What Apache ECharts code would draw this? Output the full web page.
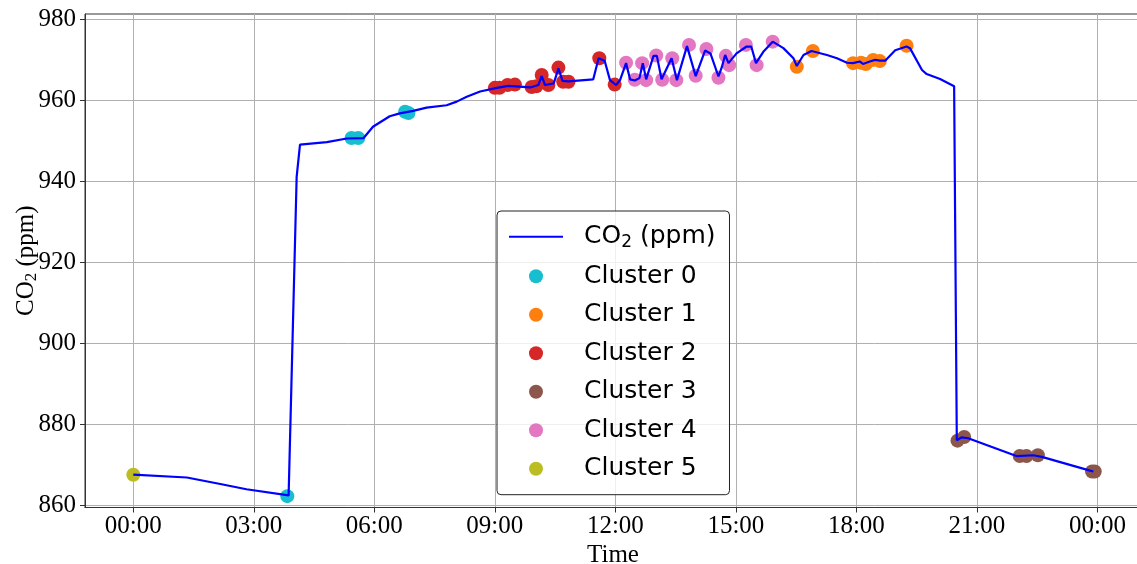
<!DOCTYPE html>
<html>
<head>
<meta charset="utf-8">
<script src="https://cdn.jsdelivr.net/npm/echarts@6/dist/echarts.min.js"></script>
<style>
  html, body { margin: 0; padding: 0; background: #fff; }
  #chart { width: 1137px; height: 564px; }
</style>
</head>
<body>
<div id="chart"></div>
<script>
// CO2 trace
const lineTimes = ['00:00', '01:20', '02:10', '02:49', '03:52', '04:04', '04:09', '04:49', '05:19', '05:44',
  '05:58', '06:23', '06:38', '06:58', '07:18', '07:48', '08:03', '08:18', '08:38', '09:03',
  '09:20', '09:53', '10:05', '10:10', '10:15', '10:28', '10:35', '10:41', '10:50', '11:27',
  '11:35', '11:44', '11:52', '12:01', '12:07', '12:16', '12:22', '12:29', '12:36', '12:41',
  '12:46', '12:57', '13:02', '13:09', '13:24', '13:32', '13:47', '14:00', '14:14', '14:22',
  '14:34', '14:39', '14:44', '14:49', '15:01', '15:16', '15:23', '15:30', '15:41', '15:55',
  '16:11', '16:26', '16:31', '16:41', '16:53', '17:16', '17:31', '17:46', '17:55', '18:05',
  '18:10', '18:20', '18:28', '18:35', '18:43', '18:58', '19:15', '19:20', '19:38', '19:45',
  '20:05', '20:26', '20:30', '20:37', '20:47', '21:59', '22:24', '22:37', '23:49', '23:54']
const lineValues = [867.5, 866.8, 865.2, 863.9, 862.4, 941.0, 949.0, 949.6, 950.5, 950.6,
  953.4, 956.0, 956.7, 957.3, 958.1, 958.7, 959.6, 960.8, 962.1, 963.0,
  963.5, 963.1, 963.7, 965.9, 963.7, 964.1, 967.8, 964.7, 964.6, 965.1,
  970.3, 969.7, 964.9, 963.7, 964.9, 969.1, 965.1, 964.8, 965.4, 969.1,
  965.1, 970.9, 970.9, 965.1, 970.3, 964.9, 973.3, 965.9, 972.2, 971.5,
  965.8, 968.1, 971.1, 969.1, 971.5, 973.2, 973.2, 969.1, 971.9, 974.4,
  972.8, 970.3, 968.4, 971.1, 972.1, 971.1, 970.3, 969.2, 969.1, 969.5,
  968.9, 969.5, 969.9, 969.7, 969.7, 972.3, 973.2, 972.8, 967.4, 966.4,
  965.2, 963.4, 876.0, 876.7, 876.5, 872.1, 872.3, 871.9, 868.5, 868.3]

// cluster points [time, ppm]
const cluster0 = [['03:50', 862.2], ['05:26', 950.6], ['05:36', 950.6], ['06:46', 957.1], ['06:51', 956.8]]
const cluster1 = [['16:31', 968.2], ['16:55', 972.1], ['17:55', 969.1], ['18:07', 969.2], ['18:14', 968.9],
  ['18:25', 969.9], ['18:35', 969.6], ['19:15', 973.4]]
const cluster2 = [['09:00', 963.0], ['09:07', 963.0], ['09:19', 963.7], ['09:30', 963.8], ['09:55', 963.2],
  ['10:02', 963.4], ['10:10', 966.2], ['10:20', 963.7], ['10:35', 968.0], ['10:42', 964.5],
  ['10:50', 964.5], ['11:36', 970.3], ['11:59', 963.8]]
const cluster3 = [['20:31', 875.9], ['20:41', 876.8], ['22:04', 872.1], ['22:14', 872.1], ['22:31', 872.3],
  ['23:52', 868.3], ['23:56', 868.3]]
const cluster4 = [['12:16', 969.2], ['12:29', 965.0], ['12:40', 969.1], ['12:46', 964.9], ['13:01', 971.0],
  ['13:10', 965.0], ['13:25', 970.3], ['13:31', 964.9], ['13:50', 973.6], ['14:00', 966.0],
  ['14:16', 972.6], ['14:34', 965.5], ['14:45', 970.9], ['14:50', 968.6], ['15:15', 973.6],
  ['15:31', 968.6], ['15:55', 974.4]]
const cluster5 = [['00:00', 867.5]]

const clusterNames = ['Cluster 0', 'Cluster 1', 'Cluster 2', 'Cluster 3', 'Cluster 4', 'Cluster 5']
const clusterColors = ['#17becf', '#ff7f0e', '#d62728', '#8c564b', '#e377c2', '#bcbd22']
const clusters = [cluster0, cluster1, cluster2, cluster3, cluster4, cluster5]

const xTicks = [0, 3, 6, 9, 12, 15, 18, 21, 24]
const yTicks = [860, 880, 900, 920, 940, 960, 980]

function toHours (t) {
  const p = t.split(':')
  return +p[0] + (+p[1]) / 60
}
function fmtHour (v) {
  const h = Math.round(v) % 24
  return (h < 10 ? '0' : '') + h + ':00'
}

const chart = echarts.init(document.getElementById('chart'))

const series = [{
  name: 'CO2',
  type: 'line',
  symbol: 'none',
  z: 5,
  color: '#0000ff',
  lineStyle: { color: '#0000ff', width: 2.2 },
  data: lineTimes.map((t, i) => [toHours(t), lineValues[i]])
}]
clusters.forEach((pts, i) => {
  series.push({
    name: clusterNames[i],
    type: 'scatter',
    symbol: 'circle',
    symbolSize: 14,
    z: 3,
    color: clusterColors[i],
    itemStyle: { color: clusterColors[i], opacity: 1 },
    data: pts.map(p => [toHours(p[0]), p[1]])
  })
})

const serif = '"Liberation Serif", "Times New Roman", serif'

chart.setOption({
  animation: false,
  backgroundColor: '#fff',
  grid: {
    left: 85,
    right: -4,
    top: 14,
    bottom: 56.5,
    outerBoundsMode: 'none',
    containLabel: false,
    show: true,
    borderColor: '#333',
    borderWidth: 1
  },
  legend: {
    orient: 'vertical',
    left: 497,
    top: 211,
    padding: [11.7, 14, 13, 11],
    itemWidth: 54,
    itemHeight: 14,
    itemGap: 12.5,
    backgroundColor: 'rgba(255,255,255,0.8)',
    borderColor: '#222',
    borderWidth: 1,
    borderRadius: 4,
    data: [{ name: 'CO2', itemStyle: { opacity: 0 } }].concat(clusterNames),
    formatter: name => name === 'CO2' ? 'CO{sub|2} (ppm)' : name,
    textStyle: {
      fontFamily: 'DejaVu Sans',
      fontSize: 25,
      lineHeight: 26,
      color: '#000',
      padding: [0, 0, 0, 16],
      rich: {
        sub: { fontFamily: 'DejaVu Sans', fontSize: 17, lineHeight: 26, padding: [11, 0, 0, 0] }
      }
    }
  },
  xAxis: {
    type: 'value',
    min: -1.202,
    max: 25.085,
    name: 'Time',
    nameLocation: 'middle',
    nameGap: 26,
    nameTextStyle: { fontFamily: serif, fontSize: 25, color: '#000' },
    axisLine: { onZero: false, lineStyle: { color: '#333' } },
    axisTick: { show: true, length: 5, lineStyle: { color: '#333' }, customValues: xTicks },
    axisLabel: {
      customValues: xTicks,
      formatter: fmtHour,
      fontFamily: serif,
      fontSize: 25,
      color: '#000',
      margin: 6
    },
    splitLine: { show: true, lineStyle: { color: '#b0b0b0', width: 1 } }
  },
  yAxis: {
    type: 'value',
    min: 859.4,
    max: 981.23,
    name: 'CO{sub|2} (ppm)',
    nameLocation: 'middle',
    nameGap: 45,
    nameMoveOverlap: false,
    nameTextStyle: {
      fontFamily: serif,
      fontSize: 25,
      color: '#000',
      rich: {
        sub: { fontFamily: serif, fontSize: 17, color: '#000', padding: [11, 0, 0, 0] }
      }
    },
    axisLine: { show: true, onZero: false, lineStyle: { color: '#333' } },
    axisTick: { show: true, length: 5, lineStyle: { color: '#333' }, customValues: yTicks },
    axisLabel: {
      customValues: yTicks,
      fontFamily: serif,
      fontSize: 25,
      color: '#000',
      margin: 9
    },
    splitLine: { show: true, lineStyle: { color: '#b0b0b0', width: 1 } }
  },
  series: series
})
</script>
</body>
</html>
